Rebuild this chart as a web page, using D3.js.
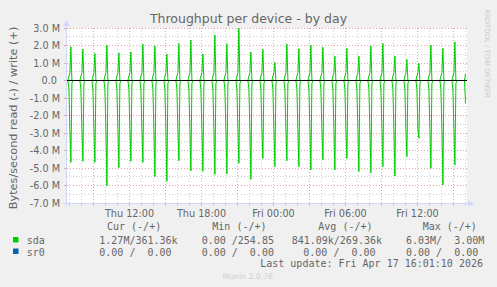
<!DOCTYPE html>
<html lang="en">
<head>
<meta charset="UTF-8">
<title>Throughput per device - by day</title>
<script src="https://d3js.org/d3.v7.min.js"></script>
<style>
  body { margin: 0; background: #f0f0f0; }
  svg text { font-family: "DejaVu Sans", sans-serif; fill: #666; }
  svg text.mono { font-family: "DejaVu Sans Mono", monospace; font-size: 10px; }
</style>
</head>
<body>
<svg id="chart" width="497" height="287"></svg>
<script>
// hourly bursts on sda, first one Thu 07:07, values in MB/s
let firstSpike = "2026-04-16T07:07:00";
let writePeak = [1.93, 1.80, 1.55, 2.03, 1.58, 1.63, 2.08, 1.98, 1.51, 2.11, 2.31,
                 1.51, 2.60, 2.10, 2.98, 1.63, 1.78, 1.04, 2.09, 1.82, 2.03, 1.90,
                 1.40, 1.84, 1.40, 1.97, 2.12, 1.40, 1.21, 0.98, 2.03, 1.84, 2.20];
let readPeak = [-4.68, -4.62, -4.68, -6.03, -4.98, -4.62, -4.68, -5.50, -5.76, -4.58, -5.17,
                -5.19, -5.37, -5.34, -4.73, -5.65, -4.45, -4.92, -4.58, -4.92, -5.11, -4.54,
                -5.11, -4.45, -5.21, -5.27, -4.92, -5.46, -4.35, -3.30, -5.02, -5.97, -4.83];
// the two samples just before every burst (10 and 5 minutes earlier)
let writeLead = [0.25, 0.45];
let readLead = [-0.5, -2.8];
let readTail = -0.15;
let lastTime = "2026-04-17T16:00:00";
let lastWrite = 0.37;
let lastRead = -1.3;

let yTicks = [3, 2, 1, 0, -1, -2, -3, -4, -5, -6, -7];
let yTickLabels = ["3.0 M", "2.0 M", "1.0 M", "0.0 ", "-1.0 M", "-2.0 M", "-3.0 M",
                   "-4.0 M", "-5.0 M", "-6.0 M", "-7.0 M"];
let xLabelTimes = ["2026-04-16T12:00:00", "2026-04-16T18:00:00", "2026-04-17T00:00:00",
                   "2026-04-17T06:00:00", "2026-04-17T12:00:00"];
let xLabels = ["Thu 12:00", "Thu 18:00", "Fri 00:00", "Fri 06:00", "Fri 12:00"];

let legendHeads = ["Cur (-/+)", "Min (-/+)", "Avg (-/+)", "Max (-/+)"];
let legendNames = ["sda", "sr0"];
let legendColors = ["#00cc00", "#0066b3"];
let sdaStats = ["1.27M/361.36k", "0.00 /254.85", "841.09k/269.36k", "6.03M/  3.00M"];
let sr0Stats = ["0.00 /  0.00", "0.00 /  0.00", "0.00 /  0.00", "0.00 /  0.00"];
let lastUpdate = "Last update: Fri Apr 17 16:01:10 2026";

let svg = d3.select("#chart");
let pLeft = 67, pRight = 467, pTop = 28, pBottom = 203;

let x = d3.scaleTime()
    .domain([new Date("2026-04-16T06:47:30"), new Date("2026-04-17T16:07:30")])
    .range([pLeft, pRight]);
let y = d3.scaleLinear().domain([-7, 3]).range([pBottom, pTop]);
let snap = v => Math.floor(v) + 0.5;

svg.append("rect").attr("width", 497).attr("height", 287).attr("fill", "#f0f0f0");
svg.append("rect").attr("x", pLeft).attr("y", pTop)
    .attr("width", pRight - pLeft).attr("height", pBottom - pTop).attr("fill", "#ffffff");

// grid
let minorH = d3.range(-7, 3.01, 0.5).filter(v => v % 1 !== 0);
let hours = d3.timeHour.range(x.domain()[0], x.domain()[1]).filter(t => x(t) > pLeft && x(t) < pRight);
let grid = svg.append("g");
grid.selectAll(".hmin").data(minorH).join("line")
    .attr("x1", pLeft).attr("x2", pRight)
    .attr("y1", d => snap(y(d))).attr("y2", d => snap(y(d)))
    .attr("stroke", "#cfcfcf").attr("stroke-dasharray", "1,2");
grid.selectAll(".vmin").data(hours.filter(t => t.getHours() % 3 !== 0)).join("line")
    .attr("x1", d => snap(x(d))).attr("x2", d => snap(x(d)))
    .attr("y1", pTop).attr("y2", pBottom)
    .attr("stroke", "#cfcfcf").attr("stroke-dasharray", "1,2");
grid.selectAll(".hmaj").data(yTicks).join("line")
    .attr("x1", pLeft).attr("x2", pRight)
    .attr("y1", d => snap(y(d))).attr("y2", d => snap(y(d)))
    .attr("stroke", "#e6a3a3").attr("stroke-dasharray", "1,2");
grid.selectAll(".vmaj").data(hours.filter(t => t.getHours() % 3 === 0)).join("line")
    .attr("x1", d => snap(x(d))).attr("x2", d => snap(x(d)))
    .attr("y1", pTop).attr("y2", pBottom)
    .attr("stroke", "#e6a3a3").attr("stroke-dasharray", "1,2");
// small ticks outside the frame
grid.selectAll(".ytick").data(yTicks).join("line")
    .attr("x1", pLeft - 3).attr("x2", pLeft)
    .attr("y1", d => snap(y(d))).attr("y2", d => snap(y(d)))
    .attr("stroke", "#e6a3a3");
grid.selectAll(".xtick").data(hours).join("line")
    .attr("x1", d => snap(x(d))).attr("x2", d => snap(x(d)))
    .attr("y1", pBottom).attr("y2", pBottom + 3)
    .attr("stroke", d => d.getHours() % 3 === 0 ? "#e6a3a3" : "#cfcfcf");

// series
let t0 = new Date(firstSpike);
let minute = 60000;
let writePts = [{t: x.domain()[0], v: 0}];
let readPts = [{t: x.domain()[0], v: 0}];
writePeak.forEach((p, i) => {
  let T = t0.getTime() + i * 60 * minute;
  writePts.push({t: new Date(T - 15 * minute), v: 0},
                {t: new Date(T - 10 * minute), v: writeLead[0]},
                {t: new Date(T - 5 * minute), v: writeLead[1]},
                {t: new Date(T), v: p},
                {t: new Date(T + 5 * minute), v: 0});
  readPts.push({t: new Date(T - 15 * minute), v: 0},
               {t: new Date(T - 10 * minute), v: readLead[0]},
               {t: new Date(T - 5 * minute), v: readLead[1]},
               {t: new Date(T), v: readPeak[i]},
               {t: new Date(T + 5 * minute), v: readTail},
               {t: new Date(T + 10 * minute), v: 0});
});
let tLast = new Date(lastTime);
writePts.push({t: new Date(tLast - 5 * minute), v: 0}, {t: tLast, v: lastWrite});
readPts.push({t: new Date(tLast - 5 * minute), v: 0}, {t: tLast, v: lastRead});

let line = d3.line().x(d => x(d.t)).y(d => y(d.v));
svg.append("path").datum([{t: x.domain()[0], v: 0}, {t: tLast, v: 0}])
    .attr("d", line).attr("fill", "none").attr("stroke", legendColors[1]);
svg.append("path").datum(readPts).attr("d", line)
    .attr("fill", "none").attr("stroke", legendColors[0]).attr("stroke-width", 1);
svg.append("path").datum(writePts).attr("d", line)
    .attr("fill", "none").attr("stroke", legendColors[0]).attr("stroke-width", 1);
svg.append("line").attr("x1", pLeft).attr("x2", pRight)
    .attr("y1", snap(y(0))).attr("y2", snap(y(0))).attr("stroke", "#000");

// axes with arrows
svg.append("line").attr("x1", 66.5).attr("x2", 66.5).attr("y1", pBottom + 3).attr("y2", 25)
    .attr("stroke", "#cfd6f8");
svg.append("path").attr("d", "M63.5,26 L66.5,20 L69.5,26 Z").attr("fill", "#cfd6f8");
svg.append("line").attr("x1", 63).attr("x2", 469).attr("y1", 203.5).attr("y2", 203.5)
    .attr("stroke", "#cfd6f8");
svg.append("path").attr("d", "M468,200.5 L474,203.5 L468,206.5 Z").attr("fill", "#cfd6f8");

// labels
svg.selectAll(".ylab").data(yTicks).join("text")
    .attr("x", 60).attr("y", d => y(d) + 3.5)
    .attr("text-anchor", "end").attr("xml:space", "preserve")
    .style("font-size", "9.7px").text((d, i) => yTickLabels[i]);
svg.selectAll(".xlab").data(xLabelTimes).join("text")
    .attr("x", d => snap(x(new Date(d)))).attr("y", 216.5)
    .attr("text-anchor", "middle").style("font-size", "9.7px")
    .text((d, i) => xLabels[i]);

svg.append("text").attr("x", 248.5).attr("y", 23).attr("text-anchor", "middle")
    .style("font-size", "12.5px").text("Throughput per device - by day");
svg.append("text").attr("transform", "translate(17,118) rotate(-90)")
    .attr("text-anchor", "middle").style("font-size", "11.3px")
    .text("Bytes/second read (-) / write (+)");
svg.append("text").attr("transform", "translate(484.5,53.5) rotate(90)")
    .attr("text-anchor", "middle").style("font-size", "6.9px").style("fill", "#c8c8c8")
    .text("RRDTOOL / TOBI OETIKER");

// legend
let headX = [107, 212.3, 318.3, 422.7];
svg.selectAll(".lh").data(legendHeads).join("text").attr("class", "mono")
    .attr("x", (d, i) => headX[i]).attr("y", 230).text(d => d);
let rowY = [244, 255.5];
let statX = [[99.3, 201.7, 291.7, 406], [99.3, 201.7, 303.3, 406]];
legendNames.forEach((name, r) => {
  svg.append("rect").attr("x", 13).attr("y", rowY[r] - 7).attr("width", 5.5).attr("height", 5.5)
      .attr("fill", legendColors[r]);
  svg.append("text").attr("class", "mono").attr("x", 26.7).attr("y", rowY[r]).text(name);
  let stats = r === 0 ? sdaStats : sr0Stats;
  stats.forEach((s, c) => {
    svg.append("text").attr("class", "mono").attr("xml:space", "preserve")
        .attr("x", statX[r][c]).attr("y", rowY[r]).text(s);
  });
});
svg.append("text").attr("class", "mono").attr("x", 483).attr("y", 267)
    .attr("text-anchor", "end").text(lastUpdate);
svg.append("text").attr("x", 247.7).attr("y", 279).attr("text-anchor", "middle")
    .style("font-size", "7.7px").style("fill", "#cccccc").text("Munin 2.0.76");
</script>
</body>
</html>
